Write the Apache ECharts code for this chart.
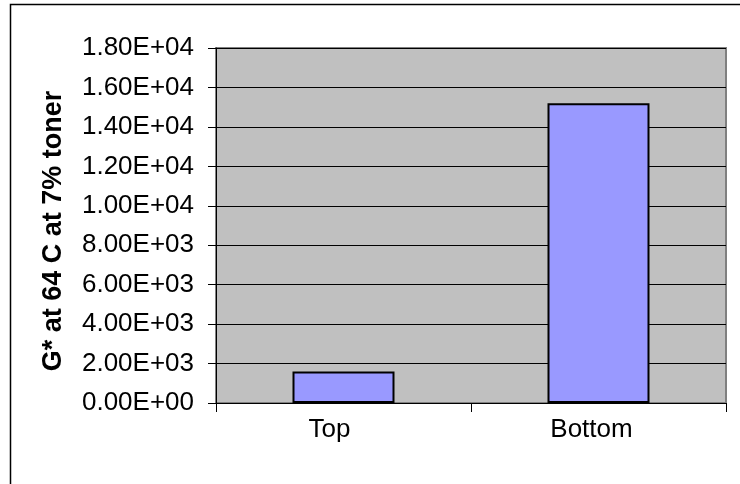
<!DOCTYPE html>
<html>
<head>
<meta charset="utf-8">
<script src="https://cdn.jsdelivr.net/npm/echarts@6/dist/echarts.min.js"></script>
<style>
html,body{margin:0;padding:0;background:#fff;}
#chart{width:740px;height:484px;}
</style>
</head>
<body>
<div id="chart"></div>
<script>
var categories = ['Top', 'Bottom'];
var values = [1600, 15200];
var yAxisTitle = 'G* at 64 C at 7% toner';
var yMin = 0, yMax = 18000, yStep = 2000;

function sci(v) {
  var parts = Number(v).toExponential(2).split('e');
  var e = parseInt(parts[1], 10);
  var sign = e < 0 ? '-' : '+';
  var n = Math.abs(e);
  return parts[0] + 'E' + sign + (n < 10 ? '0' + n : '' + n);
}

// label nudges (px, to the left) to mimic the original rendering
var labelPadRight = {Top: 28, Bottom: 14};

var chart = echarts.init(document.getElementById('chart'), null, {renderer: 'canvas'});
var font = 'Liberation Sans, Arial, sans-serif';
chart.setOption({
  animation: false,
  backgroundColor: '#ffffff',
  textStyle: {fontFamily: font},
  graphic: [{
    type: 'rect',
    shape: {x: 10.5, y: 4.5, width: 900, height: 700},
    style: {fill: 'none', stroke: '#000', lineWidth: 1.5},
    silent: true,
    z: 100
  }, {
    type: 'text',
    x: 54, y: 231,
    rotation: Math.PI / 2,
    style: {
      text: yAxisTitle,
      fill: '#000',
      font: 'bold 27px Liberation Sans, Arial, sans-serif',
      textAlign: 'center',
      textVerticalAlign: 'middle'
    },
    silent: true
  }],
  grid: {
    left: 216, right: 14, top: 48, bottom: 81,
    show: true, backgroundColor: '#C0C0C0', borderColor: '#808080', borderWidth: 2
  },
  xAxis: {
    type: 'category',
    data: categories,
    axisLine: {show: true, lineStyle: {color: '#000', width: 1}},
    axisTick: {show: true, inside: false, length: 9, alignWithLabel: false, lineStyle: {color: '#000'}},
    axisLabel: {
      color: '#000', fontSize: 26, fontFamily: font, margin: 14,
      formatter: function (v) { return '{' + (v === 'Top' ? 't' : 'b') + '|' + v + '}'; },
      rich: {
        t: {fontSize: 26, fontFamily: font, color: '#000', padding: [0, labelPadRight.Top, 0, 0]},
        b: {fontSize: 26, fontFamily: font, color: '#000', padding: [0, labelPadRight.Bottom, 0, 0]}
      }
    },
    splitLine: {show: false}
  },
  yAxis: {
    type: 'value',
    min: yMin, max: yMax, interval: yStep,
    axisLine: {show: true, lineStyle: {color: '#000', width: 1}},
    axisTick: {show: true, inside: false, length: 8, lineStyle: {color: '#000'}},
    axisLabel: {color: '#000', fontSize: 26, fontFamily: font, margin: 22, formatter: sci},
    splitLine: {show: true, lineStyle: {color: '#000', width: 1}}
  },
  series: [{
    type: 'bar',
    data: values,
    barWidth: '40%',
    itemStyle: {color: '#9999FF', borderColor: '#000', borderWidth: 2}
  }]
});
</script>
</body>
</html>
